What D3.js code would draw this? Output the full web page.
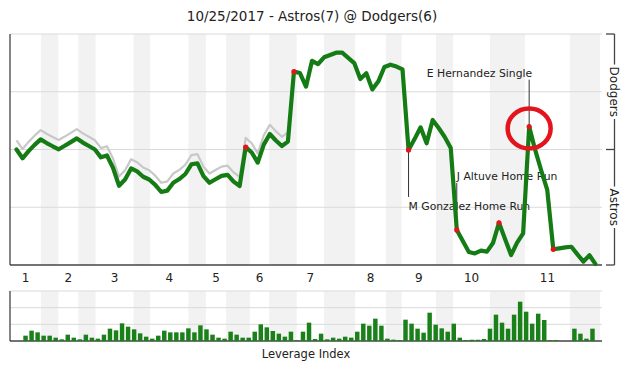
<!DOCTYPE html>
<html>
<head>
<meta charset="utf-8">
<script src="https://cdn.jsdelivr.net/npm/d3@7"></script>
<style>
body { margin: 0; background: #fff; }
text { font-family: "DejaVu Sans", sans-serif; fill: #222; }
</style>
</head>
<body>
<script>
// Win expectancy (Dodgers side up) and leverage index per play

const title = "10/25/2017 - Astros(7) @ Dodgers(6)";

// Dodgers win expectancy in %, one value per game state (start + every play)
const dodgersWE = [
  50, 46.2, 49.3, 52.0, 54.4, 52.8, 51.4, 50.1, 51.6, 53.2,
  54.8, 53.0, 51.5, 50.0, 46.6, 47.4, 42.1, 34.3, 37.0, 41.8,
  40.5, 38.2, 37.0, 34.7, 31.6, 32.2, 35.6, 37.2, 39.4, 43.6,
  44.0, 38.5, 35.6, 37.1, 38.6, 39.0, 36.1, 34.2, 51.0, 48.7,
  44.3, 52.1, 56.7, 53.9, 51.5, 53.4, 83.7, 83.1, 77.2, 88.4,
  87.0, 89.9, 90.9, 91.9, 91.9, 89.7, 87.4, 80.5, 83.0, 76.0,
  79.5, 85.7, 86.7, 85.9, 84.7, 49.8, 54.5, 59.6, 52.7, 62.8,
  59.3, 55.4, 50.6, 15.2, 10.4, 5.6, 5.0, 6.2, 5.8, 9.5,
  18.3, 11.3, 4.3, 9.7, 13.7, 59.9, 49.8, 40.9, 32.5, 6.8,
  7.2, 7.6, 7.9, 4.6, 1.5, 4.2, 0.4
];

// light grey companion line seen over the first six innings
const greyWE = [
  54, 50.2, 53.3, 56.0, 58.4, 56.8, 55.4, 54.1, 55.6, 57.2,
  58.8, 57.0, 55.5, 54.0, 50.6, 51.4, 46.1, 38.3, 41.0, 45.8,
  44.5, 42.2, 41.0, 38.7, 35.6, 36.2, 39.6, 41.2, 43.4, 47.6,
  48.0, 42.5, 39.6, 41.1, 42.6, 43.0, 40.1, 38.2, 55.0, 52.7,
  48.3, 56.1, 60.7, 57.9, 55.5, 57.4
];

// leverage index of plays 1..95
const leverage = [
  0.64, 1.24, 1.04, 0.64, 0.64, 0.4, 0.2, 0.76, 0.4, 0.2,
  0.76, 0.4, 0.28, 0.76, 1.48, 1.28, 2.12, 1.72, 1.4, 0.92,
  0.52, 0.28, 0.64, 1.24, 1.04, 1.04, 1.04, 1.52, 1.04, 1.88,
  1.4, 0.76, 0.4, 0.28, 1.12, 0.76, 0.4, 0.4, 1.12, 2.0,
  1.64, 1.2, 0.88, 0.52, 1.12, 0.1, 1.12, 2.2, 0.24, 0.88,
  0.2, 0.4, 0.28, 0.52, 0.4, 1.12, 2.08, 1.84, 2.68, 1.84,
  0.28, 0.16, 0.1, 2.56, 2.08, 1.48, 1.0, 3.4, 1.96, 1.52,
  1.12, 2.08, 0.4, 0.1, 0.15, 0.15, 0.24, 1.48, 3.16, 2.2,
  1.48, 3.16, 4.72, 3.52, 2.08, 3.28, 2.52, 0.1, 0.1, 0,
  0, 1.48, 0.88, 0.28, 1.48
];

// where each half inning ends, in play units (top1, bot1, top2, ...)
const halfEnds = [
  4.05, 6.95, 10.25, 13.1, 19.4, 22.15, 28.5, 31.4, 34.75, 38.7,
  41.9, 46.45, 51.0, 56.15, 61.25, 63.85, 69.55, 72.4, 78.5, 84.3,
  91.75, 96.75
];
const innings = ["1", "2", "3", "4", "5", "6", "7", "8", "9", "10", "11"];

const keyPlays = [38, 46, 65, 73, 80, 85, 89];
const notes = [
  { play: 65, text: "M Gonzalez Home Run", below: true },
  { play: 73, text: "J Altuve Home Run", below: false },
  { play: 85, text: "E Hernandez Single", below: false, left: true }
];
const circled = 85;

// -------------------------------

const W = 634, H = 377;
const left = 10, right = 602;
const top1 = 34, bot1 = 265;
const top2 = 291, bot2 = 341;

const svg = d3.select("body").append("svg")
  .attr("width", W).attr("height", H);

const x = d3.scaleLinear().domain([0, dodgersWE.length - 1]).range([16.5, 595.5]);
const y = d3.scaleLinear().domain([0, 100]).range([bot1, top1]);
const yl = d3.scaleLinear().domain([0, 6]).range([bot2, top2]);
const step = x(1) - x(0);

// title
svg.append("text")
  .attr("x", 312).attr("y", 21)
  .attr("text-anchor", "middle")
  .style("font-size", "13.5px")
  .text(title);

// bottom-half shading in both panels
const bottoms = innings.map((d, k) => [halfEnds[2 * k], halfEnds[2 * k + 1]]);
[[top1, bot1], [top2, bot2]].forEach(([t, b]) => {
  svg.append("g").selectAll("rect")
    .data(bottoms).enter().append("rect")
    .attr("x", d => x(d[0]))
    .attr("width", d => Math.min(x(d[1]), right) - x(d[0]))
    .attr("y", t).attr("height", b - t)
    .attr("fill", "#f2f2f2");
});

// grid lines
svg.append("g").selectAll("line")
  .data([25, 50, 75, 100]).enter().append("line")
  .attr("x1", left).attr("x2", right)
  .attr("y1", d => y(d)).attr("y2", d => y(d))
  .attr("stroke", "#dadada");
svg.append("g").selectAll("line")
  .data([2, 4, 6]).enter().append("line")
  .attr("x1", left).attr("x2", right)
  .attr("y1", d => yl(d)).attr("y2", d => yl(d))
  .attr("stroke", "#dadada");

// axis frames
const axisLine = (x1, y1, x2, y2) => svg.append("line")
  .attr("x1", x1).attr("y1", y1).attr("x2", x2).attr("y2", y2)
  .attr("stroke", "#444").attr("stroke-width", 1.3);
axisLine(left, top1, left, bot1);
axisLine(left, bot1, right, bot1);
axisLine(left, top2, left, bot2);
axisLine(left, bot2, right, bot2);

// inning labels, centred on the top half
svg.append("g").selectAll("text")
  .data(innings).enter().append("text")
  .attr("x", (d, k) => {
    let s = k == 0 ? left : x(halfEnds[2 * k - 1]);
    return (s + x(halfEnds[2 * k])) / 2;
  })
  .attr("y", 281.5)
  .attr("text-anchor", "middle")
  .style("font-size", "12px")
  .text(d => d);

// right bracket with team names
const bx = 614.5;
axisLine(bx, y(100), bx, y(0));
[100, 50, 0].forEach(v => axisLine(606, y(v), bx, y(v)));
[["Dodgers", 75], ["Astros", 25]].forEach(([name, v]) => {
  const g = svg.append("g").attr("transform", `translate(${bx},${y(v)}) rotate(90)`);
  const bg = g.append("rect").attr("fill", "#fff");
  const t = g.append("text")
    .attr("text-anchor", "middle")
    .attr("dy", "0.35em")
    .style("font-size", "12px")
    .text(name);
  const bb = t.node().getBBox();
  bg.attr("x", bb.x - 2).attr("y", bb.y).attr("width", bb.width + 4).attr("height", bb.height);
});

// annotations (drawn under the line)
notes.forEach(n => {
  const px = x(n.play), py = y(dodgersWE[n.play]);
  const lineEnd = n.below ? py + 47 : py - 47;
  svg.append("line")
    .attr("x1", px).attr("x2", px).attr("y1", py).attr("y2", lineEnd)
    .attr("stroke", "#333").attr("stroke-width", 1);
  svg.append("text")
    .attr("x", n.left ? px + 3 : px)
    .attr("y", n.below ? py + 60.5 : py - 50)
    .attr("text-anchor", n.left ? "end" : "start")
    .style("font-size", "10.8px")
    .text(n.text);
});

// win expectancy lines
const line = d3.line().x((d, i) => x(i)).y(d => y(d));
svg.append("path")
  .attr("d", line(greyWE))
  .attr("fill", "none").attr("stroke", "#c8c8c8").attr("stroke-width", 2.2)
  .attr("stroke-linejoin", "round");
svg.append("path")
  .attr("d", line(dodgersWE))
  .attr("fill", "none").attr("stroke", "#157c15").attr("stroke-width", 4.2)
  .attr("stroke-linejoin", "round").attr("stroke-linecap", "round");

svg.append("g").selectAll("circle")
  .data(keyPlays).enter().append("circle")
  .attr("cx", d => x(d)).attr("cy", d => y(dodgersWE[d]))
  .attr("r", 2.6).attr("fill", "#e3141c");

svg.append("ellipse")
  .attr("cx", x(circled)).attr("cy", y(dodgersWE[circled]) + 1.8)
  .attr("rx", 21.5).attr("ry", 20)
  .attr("fill", "none").attr("stroke", "#e3141c").attr("stroke-width", 4.5);

// leverage bars
svg.append("g").selectAll("rect")
  .data(leverage).enter().append("rect")
  .attr("x", (d, j) => x(j + 1.5) - step * 0.37)
  .attr("width", step * 0.74)
  .attr("y", d => yl(d))
  .attr("height", d => bot2 - yl(d))
  .attr("fill", "#1a801a");

svg.append("text")
  .attr("x", (left + right) / 2).attr("y", 358)
  .attr("text-anchor", "middle")
  .style("font-size", "11.5px")
  .text("Leverage Index");
</script>
</body>
</html>
